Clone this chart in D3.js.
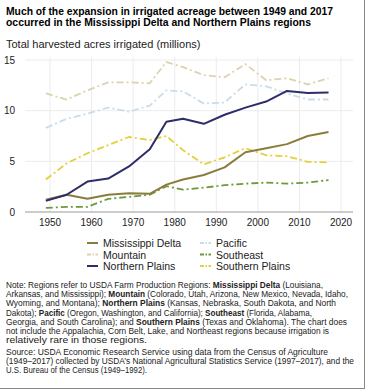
<!DOCTYPE html>
<html><head><meta charset="utf-8">
<script src="https://cdn.jsdelivr.net/npm/d3@7"></script>
<style>
html,body{margin:0;padding:0;background:#fff;}
svg{display:block;font-family:"Liberation Sans",Arial,sans-serif;}
</style></head>
<body><svg id="c" width="365" height="389"></svg>
<script>
const years = [1949,1954,1959,1964,1969,1974,1978,1982,1987,1992,1997,2002,2007,2012,2017];
const mississippiDelta = [1.2,1.7,1.3,1.7,1.85,1.8,2.7,3.2,3.65,4.4,5.9,6.3,6.7,7.5,7.9];
const mountain = [11.7,11.1,12.0,12.8,12.8,12.7,14.8,14.3,13.5,13.3,14.6,13.0,13.2,12.6,13.2];
const northernPlains = [1.1,1.7,3.0,3.3,4.5,6.2,8.9,9.2,8.7,9.6,10.3,10.9,11.95,11.75,11.8];
const pacific = [8.3,9.2,9.7,10.3,9.9,10.5,12.0,11.9,10.7,10.8,12.6,12.4,11.7,11.1,11.1];
const southeast = [0.4,0.5,0.5,1.3,1.5,1.7,2.55,2.2,2.4,2.65,2.8,2.9,2.8,2.9,3.15];
const southernPlains = [3.2,4.8,5.8,6.6,7.4,7.1,7.5,6.1,4.7,5.4,6.3,5.6,5.5,4.95,4.9];
const seriesNames = ["Mississippi Delta","Mountain","Northern Plains","Pacific","Southeast","Southern Plains"];
const yTicks = [0,5,10,15];
const xTicks = [1950,1960,1970,1980,1990,2000,2010,2020];

const seriesData = [mississippiDelta, mountain, northernPlains, pacific, southeast, southernPlains];
const styles = [
  {color:"#8a7d3c", dash:null, w:2},
  {color:"#ddd2ae", dash:"7,3,2,3", w:1.8},
  {color:"#2d2d6b", dash:null, w:2},
  {color:"#c9dcea", dash:"7,3,2,3", w:1.8},
  {color:"#6b9a3d", dash:"7,3,2,3", w:1.8},
  {color:"#e3d036", dash:"7,3,2,3", w:1.8}
];

const svg = d3.select("#c");
const x = d3.scaleLinear().domain([1950,2020]).range([50,341]);
const y = d3.scaleLinear().domain([0,15]).range([212,60]);

// border
svg.append("line").attr("x1",364.5).attr("x2",364.5).attr("y1",0).attr("y2",389).attr("stroke","#888");
svg.append("line").attr("x1",0).attr("x2",365).attr("y1",388.5).attr("y2",388.5).attr("stroke","#888");

// title
svg.append("text").attr("x",6).attr("y",15).attr("font-weight","bold").attr("font-size",11.6).attr("fill","#000")
  .attr("textLength",327).attr("lengthAdjust","spacingAndGlyphs")
  .text("Much of the expansion in irrigated acreage between 1949 and 2017");
svg.append("text").attr("x",6).attr("y",25.5).attr("font-weight","bold").attr("font-size",11.6).attr("fill","#000")
  .attr("textLength",305).attr("lengthAdjust","spacingAndGlyphs")
  .text("occurred in the Mississippi Delta and Northern Plains regions");

svg.append("text").attr("x",6).attr("y",48).attr("font-size",11).attr("fill","#222")
  .text("Total harvested acres irrigated (millions)");

// grid
const g = svg.append("g");
g.selectAll(".vg").data(xTicks).join("line")
  .attr("x1",d=>x(d)).attr("x2",d=>x(d)).attr("y1",57).attr("y2",212)
  .attr("stroke","#ececec").attr("stroke-width",1);
g.selectAll(".hg").data(yTicks.filter(d=>d>0)).join("line")
  .attr("x1",25).attr("x2",353).attr("y1",d=>y(d)).attr("y2",d=>y(d))
  .attr("stroke","#ececec").attr("stroke-width",1);
g.append("line").attr("x1",25).attr("x2",353).attr("y1",y(0)).attr("y2",y(0)).attr("stroke","#999");

// axes labels
g.selectAll(".yt").data(yTicks).join("text")
  .attr("x",15).attr("y",d=>y(d)+3.5).attr("text-anchor","end").attr("font-size",10).attr("fill","#222")
  .text(d=>d);
g.selectAll(".xt").data(xTicks).join("text")
  .attr("x",d=>x(d)).attr("y",226).attr("text-anchor","middle").attr("font-size",10).attr("fill","#222")
  .text(d=>d);

// lines
const line = d3.line().x((d,i)=>x(years[i])).y(d=>y(d));
const order = [1,3,5,4,0,2];
order.forEach(k=>{
  svg.append("path").datum(seriesData[k]).attr("d",line).attr("fill","none")
    .attr("stroke",styles[k].color).attr("stroke-width",styles[k].w)
    .attr("stroke-dasharray",styles[k].dash).attr("stroke-linejoin","round");
});

// legend
const legPos = [[87,243],[87,254.5],[87,266],[200,243],[200,254.5],[200,266]];
seriesNames.forEach((n,k)=>{
  const [lx,ly] = legPos[k];
  svg.append("line").attr("x1",lx).attr("x2",lx+11).attr("y1",ly).attr("y2",ly)
    .attr("stroke",styles[k].color).attr("stroke-width",2)
    .attr("stroke-dasharray",styles[k].dash?"4,1.5,1.5,1.5":null);
  svg.append("text").attr("x",lx+16).attr("y",ly+4).attr("font-size",10.5).attr("fill","#222").text(n);
});

// note
const noteLines = [
  [["Note: Regions refer to USDA Farm Production Regions: ",0],["Mississippi Delta",1],[" (Louisiana,",0]],
  [["Arkansas, and Mississippi); ",0],["Mountain",1],[" (Colorado, Utah, Arizona, New Mexico, Nevada, Idaho,",0]],
  [["Wyoming, and Montana); ",0],["Northern Plains",1],[" (Kansas, Nebraska, South Dakota, and North",0]],
  [["Dakota); ",0],["Pacific",1],[" (Oregon, Washington, and California); ",0],["Southeast",1],[" (Florida, Alabama,",0]],
  [["Georgia, and South Carolina); and ",0],["Southern Plains",1],[" (Texas and Oklahoma). The chart does",0]],
  [["not include the Appalachia, Corn Belt, Lake, and Northeast regions because irrigation is",0]],
  [["relatively rare in those regions.",0]],
  [["Source: USDA Economic Research Service using data from the Census of Agriculture",0]],
  [["(1949–2017) collected by USDA’s National Agricultural Statistics Service (1997–2017), and the",0]],
  [["U.S. Bureau of the Census (1949–1992).",0]]
];
const noteEnd = [323,348,336,312,347,329,147,328,354,147];
const noteY = [288,297.2,306.4,315.6,324.8,334,343.2,355,364.2,373.4];
noteLines.forEach((parts,i)=>{
  const t = svg.append("text").attr("x",6).attr("y",noteY[i]).attr("font-size",8.4).attr("fill","#222")
    .attr("textLength",noteEnd[i]-6).attr("lengthAdjust","spacingAndGlyphs");
  parts.forEach(p=>t.append("tspan").attr("font-weight",p[1]?"bold":null).text(p[0]));
});
</script></body></html>
